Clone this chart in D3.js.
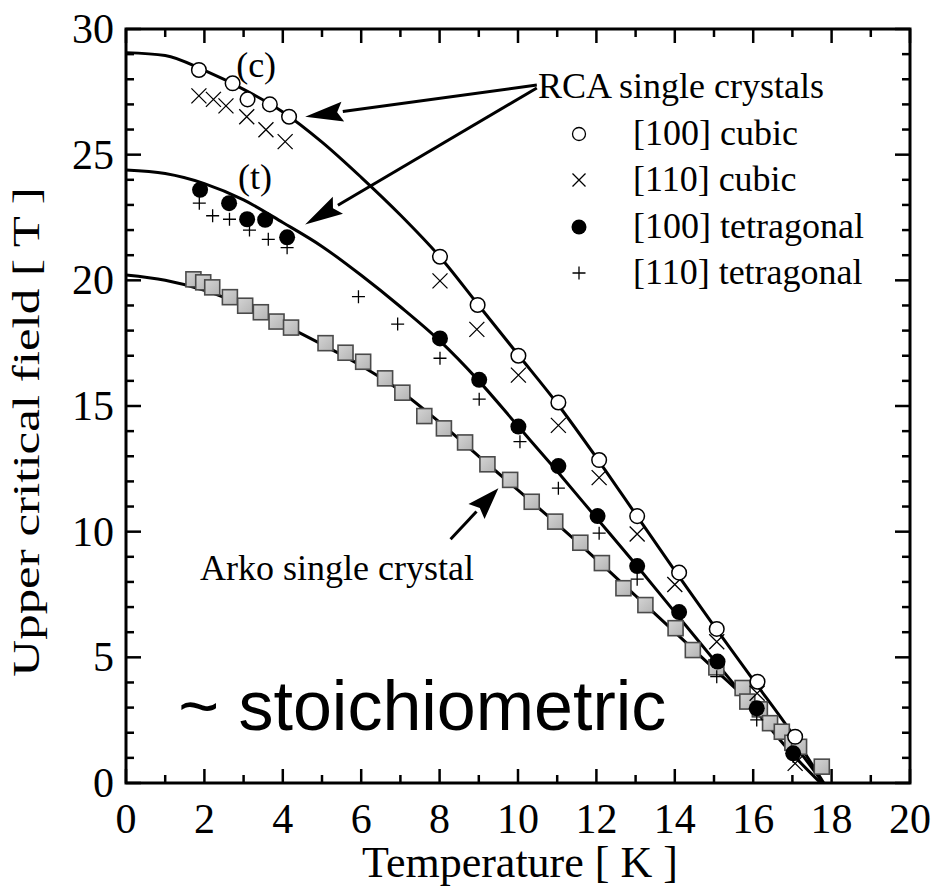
<!DOCTYPE html>
<html>
<head>
<meta charset="utf-8">
<script src="https://cdn.jsdelivr.net/npm/d3@7"></script>
<style>
  html, body { margin: 0; padding: 0; background: #fff; }
  svg { display: block; }
  text { font-family: "Liberation Serif", "Times New Roman", serif; fill: #000; }
</style>
</head>
<body>
<svg id="chart" width="931" height="886"></svg>
<script>
// Upper critical field vs temperature, [T, Hc2] pairs
const cubic100 = [[1.86,28.37],[2.72,27.84],[3.10,27.20],[3.67,27.00],[4.16,26.51],[8.01,20.94],[8.97,19.02],[10.01,17.00],[11.03,15.14],[12.07,12.85],[13.04,10.62],[14.11,8.37],[15.07,6.13],[16.11,4.03],[17.07,1.84]];
const cubic110 = [[1.86,27.34],[2.23,27.20],[2.55,26.94],[3.08,26.51],[3.57,25.99],[4.06,25.52],[8.01,19.98],[8.95,18.05],[10.01,16.23],[11.03,14.23],[12.07,12.15],[13.04,9.91],[14.00,7.90],[15.07,5.62],[16.10,3.57],[17.07,0.78]];
const tetra100 = [[1.89,23.60],[2.63,23.07],[3.09,22.43],[3.55,22.41],[4.11,21.71],[8.01,17.69],[9.01,16.04],[10.01,14.18],[11.03,12.61],[12.03,10.62],[13.04,8.63],[14.11,6.80],[15.09,4.83],[16.09,2.97],[17.02,1.18]];
const tetra110 = [[1.87,23.07],[2.21,22.57],[2.64,22.43],[3.15,22.00],[3.63,21.63],[4.11,21.30],[5.93,19.35],[6.93,18.26],[8.01,16.90],[9.01,15.27],[10.05,13.58],[11.03,11.73],[12.07,9.94],[13.04,8.11],[15.07,4.23],[16.09,2.51],[17.02,1.05]];
const arko = [[1.72,20.04],[1.97,19.92],[2.20,19.72],[2.65,19.33],[3.04,18.99],[3.44,18.73],[3.84,18.36],[4.21,18.12],[5.09,17.50],[5.60,17.12],[6.05,16.76],[6.61,16.10],[7.05,15.53],[7.61,14.60],[8.11,14.11],[8.65,13.55],[9.22,12.68],[9.80,12.06],[10.35,11.19],[10.95,10.40],[11.59,9.56],[12.14,8.75],[12.69,7.75],[13.25,7.08],[14.02,6.16],[14.46,5.29],[15.06,4.60],[15.73,3.78],[15.85,3.24],[16.17,2.93],[16.43,2.38],[16.73,2.04],[17.00,1.60],[17.17,1.44],[17.75,0.65]];

// Fitted Hc2(T) curves
const fitCubic = [[0,29.06],[1,28.95],[2,28.35],[3,27.6],[4,26.7],[5,25.5],[6,24.1],[7,22.6],[8,20.95],[9,19.0],[10,17.05],[11,15.1],[12,12.95],[13,10.7],[14,8.45],[15,6.25],[16,4.1],[17,1.95],[17.8,0]];
const fitTetra = [[0,24.39],[1,24.25],[2,23.85],[3,23.2],[4,22.3],[5,21.35],[6,20.2],[7,18.95],[8,17.6],[9,16.0],[10,14.2],[11,12.4],[12,10.55],[13,8.7],[14,6.8],[15,4.9],[16,3.0],[17,1.15],[17.72,0]];
const fitArko = [[0,20.21],[1,20.0],[2,19.6],[3,19.0],[4,18.25],[5,17.45],[6,16.6],[7,15.6],[8,14.35],[9,13.0],[10,11.65],[11,10.3],[12,8.9],[13,7.45],[14,6.0],[15,4.55],[16,3.1],[17,1.6],[17.78,0]];

const xTicks = [0,2,4,6,8,10,12,14,16,18,20];
const yTicks = [0,5,10,15,20,25,30];
const legendLabels = ["[100] cubic","[110] cubic","[100] tetragonal","[110] tetragonal"];

const svg = d3.select("#chart");
const x = d3.scaleLinear().domain([0,20]).range([126,910]);
const y = d3.scaleLinear().domain([0,30]).range([783,29]);

// Frame
svg.append("rect").attr("x",x(0)).attr("y",y(30)).attr("width",x(20)-x(0)).attr("height",y(0)-y(30))
  .attr("fill","none").attr("stroke","#000").attr("stroke-width",3);

// Inward ticks on all four sides
const tickG = svg.append("g").attr("stroke","#000").attr("stroke-width",2.5);
d3.range(0,21,1).forEach(v => {
  const len = v % 2 === 0 ? 14 : 8;
  tickG.append("line").attr("x1",x(v)).attr("x2",x(v)).attr("y1",y(0)).attr("y2",y(0)-len);
  tickG.append("line").attr("x1",x(v)).attr("x2",x(v)).attr("y1",y(30)).attr("y2",y(30)+len);
});
d3.range(0,31,1).forEach(v => {
  const len = v % 5 === 0 ? 15 : 8;
  tickG.append("line").attr("x1",x(0)).attr("x2",x(0)+len).attr("y1",y(v)).attr("y2",y(v));
  tickG.append("line").attr("x1",x(20)).attr("x2",x(20)-len).attr("y1",y(v)).attr("y2",y(v));
});

// Tick labels
svg.append("g").selectAll("text").data(xTicks).join("text")
  .attr("x",d=>x(d)).attr("y",833).attr("text-anchor","middle").attr("font-size",42).text(d=>d);
svg.append("g").selectAll("text").data(yTicks).join("text")
  .attr("x",114).attr("y",d=>y(d)+14).attr("text-anchor","end").attr("font-size",42).text(d=>d);

// Axis titles
svg.append("text").attr("x",520).attr("y",877).attr("text-anchor","middle").attr("font-size",44)
  .text("Temperature [ K ]");
svg.append("text").attr("transform","translate(39,432) scale(0.75,1) rotate(-90)").attr("text-anchor","middle")
  .attr("font-size",51).text("Upper critical field [ T ]");

// Fit curves
const line = d3.line().x(d=>x(d[0])).y(d=>y(d[1])).curve(d3.curveMonotoneX);
[fitCubic, fitTetra, fitArko].forEach(f => {
  svg.append("path").attr("d",line(f)).attr("fill","none").attr("stroke","#000").attr("stroke-width",3);
});

// Markers
const defs = svg.append("defs");
const grad = defs.append("linearGradient").attr("id","sq").attr("x1",0).attr("y1",0).attr("x2",1).attr("y2",1);
grad.append("stop").attr("offset","0%").attr("stop-color","#d4d4d4");
grad.append("stop").attr("offset","100%").attr("stop-color","#b4b4b4");

const mk = svg.append("g");
function crossPath(cx, cy, h){ return `M${cx-h},${cy-h}L${cx+h},${cy+h}M${cx-h},${cy+h}L${cx+h},${cy-h}`; }
function plusPath(cx, cy, h){ return `M${cx-h},${cy}L${cx+h},${cy}M${cx},${cy-h}L${cx},${cy+h}`; }

mk.selectAll(".arko").data(arko).join("rect").attr("class","arko")
  .attr("x",d=>x(d[0])-7.5).attr("y",d=>y(d[1])-7.5).attr("width",15).attr("height",15)
  .attr("fill","url(#sq)").attr("stroke","#4a4a4a").attr("stroke-width",1.6);
mk.selectAll(".t110").data(tetra110).join("path").attr("class","t110")
  .attr("d",d=>plusPath(x(d[0]),y(d[1]),6.5)).attr("stroke","#000").attr("stroke-width",1.3).attr("fill","none");
mk.selectAll(".t100").data(tetra100).join("circle").attr("class","t100")
  .attr("cx",d=>x(d[0])).attr("cy",d=>y(d[1])).attr("r",8).attr("fill","#000");
mk.selectAll(".c110").data(cubic110).join("path").attr("class","c110")
  .attr("d",d=>crossPath(x(d[0]),y(d[1]),7.5)).attr("stroke","#000").attr("stroke-width",1.3).attr("fill","none");
mk.selectAll(".c100").data(cubic100).join("circle").attr("class","c100")
  .attr("cx",d=>x(d[0])).attr("cy",d=>y(d[1])).attr("r",7.3).attr("fill","#fff").attr("stroke","#000").attr("stroke-width",1.5);

// Annotation arrows (tail and tip in data units)
function arrow(t0, t1, headLen, headHalf){
  const x0=x(t0[0]), y0=y(t0[1]), x1=x(t1[0]), y1=y(t1[1]);
  const a = Math.atan2(y1-y0, x1-x0);
  const bx = x1 - headLen*Math.cos(a), by = y1 - headLen*Math.sin(a);
  svg.append("line").attr("x1",x0).attr("y1",y0).attr("x2",bx).attr("y2",by)
    .attr("stroke","#000").attr("stroke-width",3);
  const px = -Math.sin(a)*headHalf, py = Math.cos(a)*headHalf;
  svg.append("path").attr("d",`M${x1},${y1}L${bx+px},${by+py}L${bx+0.15*headLen*Math.cos(a)},${by+0.15*headLen*Math.sin(a)}L${bx-px},${by-py}Z`)
    .attr("fill","#000");
}
arrow([10.48,27.77],[4.57,26.51],38,10);
arrow([10.48,27.65],[4.57,22.22],38,10);
arrow([8.28,9.70],[9.50,11.73],32,11);

// Labels
svg.append("text").attr("x",x(2.81)).attr("y",y(28.09)).attr("font-size",36).text("(c)");
svg.append("text").attr("x",x(2.86)).attr("y",y(23.64)).attr("font-size",36).text("(t)");
svg.append("text").attr("x",x(10.51)).attr("y",y(27.26)).attr("font-size",36).text("RCA single crystals");
svg.append("text").attr("x",x(1.89)).attr("y",y(8.08)).attr("font-size",36).text("Arko single crystal");
svg.append("text").attr("x",x(1.33)).attr("y",y(2.11)).attr("font-size",70)
  .style("font-family","'Liberation Sans', Arial, sans-serif").text("~ stoichiometric");

// Legend
const lgX = 579, lgTextX = 633, lgBase = [145,191,238,284];
const lg = svg.append("g");
lgBase.forEach((b,i) => {
  const cy = b - 11;
  if (i === 0) lg.append("circle").attr("cx",lgX).attr("cy",cy).attr("r",6.5).attr("fill","#fff").attr("stroke","#000").attr("stroke-width",1.3);
  if (i === 1) lg.append("path").attr("d",crossPath(lgX,cy,6.5)).attr("stroke","#000").attr("stroke-width",1.3);
  if (i === 2) lg.append("circle").attr("cx",lgX).attr("cy",cy).attr("r",7.5).attr("fill","#000");
  if (i === 3) lg.append("path").attr("d",plusPath(lgX,cy,6.5)).attr("stroke","#000").attr("stroke-width",1.3);
  lg.append("text").attr("x",lgTextX).attr("y",b).attr("font-size",36).text(legendLabels[i]);
});
</script>
</body>
</html>
